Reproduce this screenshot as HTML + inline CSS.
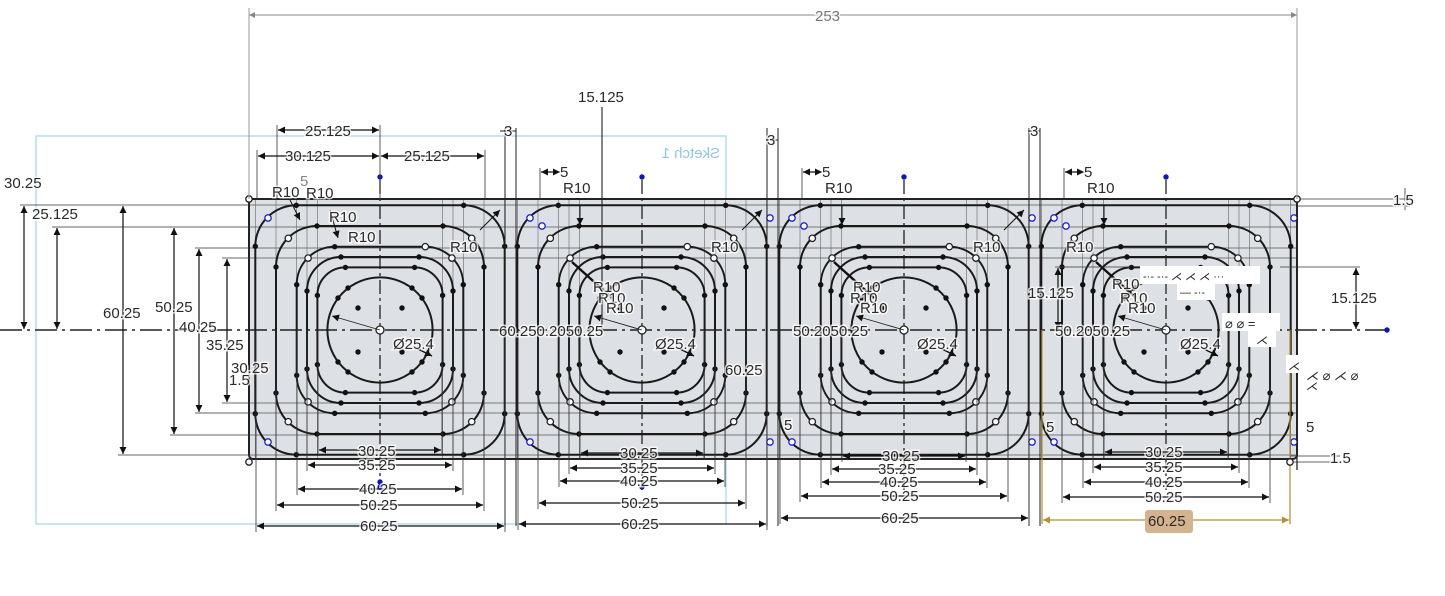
<!DOCTYPE html>
<html><head><meta charset="utf-8"><style>
html,body{margin:0;padding:0;background:#fff;width:1445px;height:596px;overflow:hidden}
svg{display:block}
text{font-family:"Liberation Sans",sans-serif;font-size:15px;fill:#2a2a2a;paint-order:stroke;stroke:#fff;stroke-width:3px;stroke-opacity:.75}
</style></head><body>
<svg id="s" width="1445" height="596" viewBox="0 0 1445 596" xmlns="http://www.w3.org/2000/svg">
<defs>
<marker id="a" viewBox="0 0 10 10" refX="10" refY="5" markerWidth="12" markerHeight="7" markerUnits="userSpaceOnUse" orient="auto-start-reverse"><path d="M0,0L10,5L0,10z" fill="#111"/></marker>
<marker id="g" viewBox="0 0 10 10" refX="10" refY="5" markerWidth="12" markerHeight="7" markerUnits="userSpaceOnUse" orient="auto-start-reverse"><path d="M0,0L10,5L0,10z" fill="#b8902a"/></marker>
<marker id="gr" viewBox="0 0 10 10" refX="10" refY="5" markerWidth="10" markerHeight="6" markerUnits="userSpaceOnUse" orient="auto-start-reverse"><path d="M0,0L10,5L0,10z" fill="#888"/></marker>
</defs>
<rect x="36" y="136" width="690" height="388" fill="none" stroke="#9fd4ee" stroke-width="1.2"/>
<rect x="249" y="199" width="1048" height="260" rx="4" fill="#dde0e4" stroke="#222" stroke-width="2"/>
<g id="geo"></g>
<line x1="249" y1="15" x2="1297" y2="15" stroke="#888" stroke-width="1" marker-start="url(#gr)" marker-end="url(#gr)"/>
<line x1="249" y1="8" x2="249" y2="199" stroke="#999" stroke-width="1"/>
<line x1="1297" y1="8" x2="1297" y2="199" stroke="#999" stroke-width="1"/>
<text x="815" y="21" style="fill:#777">253</text>
<text x="650" y="158" transform="scale(-1,1) translate(-1370,0)" style="fill:#8cc8ea;font-size:15px">Sketch 1</text>

<text x="4" y="188">30.25</text>
<text x="32" y="219">25.125</text>
<text x="103" y="318">60.25</text>
<text x="155" y="312">50.25</text>
<text x="179" y="332">40.25</text>
<text x="206" y="350">35.25</text>
<text x="231" y="373">30.25</text>
<text x="229" y="385">1.5</text>

<text x="305" y="136">25.125</text>
<text x="285" y="161">30.125</text>
<text x="404" y="161">25.125</text>
<text x="300" y="186" style="fill:#888">5</text>
<text x="272" y="197">R10</text><text x="306" y="198">R10</text>
<text x="329" y="222">R10</text><text x="348" y="242">R10</text>
<text x="450" y="252">R10</text>
<text x="578" y="102">15.125</text>
<text x="504" y="136">3</text><text x="767" y="145">3</text><text x="1030" y="136">3</text>
<text x="560" y="177">5</text><text x="822" y="177">5</text><text x="1084" y="177">5</text>
<text x="563" y="193">R10</text><text x="825" y="193">R10</text><text x="1087" y="193">R10</text>
<text x="711" y="252">R10</text><text x="973" y="252">R10</text><text x="1066" y="252">R10</text>
<text x="593" y="292">R10</text><text x="598" y="303">R10</text><text x="606" y="313">R10</text>
<text x="853" y="292">R10</text><text x="850" y="303">R10</text><text x="860" y="313">R10</text>
<text x="1112" y="289">R10</text><text x="1120" y="303">R10</text><text x="1128" y="313">R10</text>
<text x="499" y="336">60.250.2050.25</text>
<text x="793" y="336">50.2050.25</text>
<text x="1055" y="336">50.2050.25</text>
<text x="725" y="375">60.25</text>
<text x="1028" y="298">15.125</text>
<text x="1331" y="303">15.125</text>
<text x="1393" y="205">1.5</text>
<text x="1330" y="463">1.5</text>
<text x="393" y="349">Ø25.4</text><text x="655" y="349">Ø25.4</text><text x="917" y="349">Ø25.4</text><text x="1180" y="349">Ø25.4</text>
<text x="1046" y="432">5</text><text x="1306" y="432">5</text><text x="784" y="430">5</text>

<text x="358" y="456">30.25</text><text x="358" y="470">35.25</text><text x="359" y="494">40.25</text><text x="360" y="510">50.25</text><text x="360" y="531">60.25</text>
<text x="620" y="458">30.25</text><text x="620" y="473">35.25</text><text x="620" y="486">40.25</text><text x="621" y="508">50.25</text><text x="621" y="529">60.25</text>
<text x="882" y="461">30.25</text><text x="878" y="474">35.25</text><text x="880" y="487">40.25</text><text x="881" y="501">50.25</text><text x="881" y="523">60.25</text>
<text x="1145" y="457">30.25</text><text x="1145" y="472">35.25</text><text x="1145" y="487">40.25</text><text x="1145" y="502">50.25</text>
<rect x="1145" y="510" width="48" height="23" rx="3" fill="#d4b48e"/>
<text x="1148" y="526" style="stroke:none">60.25</text>

<g fill="#fff" stroke="none">
<rect x="1140" y="266" width="100" height="18"/><rect x="1240" y="266" width="20" height="18"/>
<rect x="1177" y="282" width="38" height="18"/>
<rect x="1222" y="313" width="58" height="18"/><rect x="1248" y="329" width="28" height="18"/>
<rect x="1286" y="355" width="18" height="18"/>
</g>
<text x="1143" y="280" style="font-size:11px">-·- -·- ⋌ ⋌ ⋌ ···</text>
<text x="1180" y="296" style="font-size:11px">— -·-</text>
<text x="1225" y="328" style="font-size:13px">⌀ ⌀ =</text>
<text x="1256" y="344" style="font-size:12px">⋌</text>
<text x="1288" y="370" style="font-size:12px">⋌</text>
<text x="1306" y="380" style="font-size:13px">⋌ ⌀ ⋌ ⌀</text>
<text x="1306" y="390" style="font-size:12px">⋌</text>
</svg>
<script>
(function(){
var NS="http://www.w3.org/2000/svg",G=document.getElementById("geo");
function el(t,a){var e=document.createElementNS(NS,t);for(var k in a)e.setAttribute(k,a[k]);G.appendChild(e);return e;}
function L(x1,y1,x2,y2,w,c,extra){var o={x1:x1,y1:y1,x2:x2,y2:y2,stroke:c||"#222","stroke-width":w||1};for(var k in extra)o[k]=extra[k];return el("line",o);}
function D(x1,y1,x2,y2,c,m){L(x1,y1,x2,y2,1.2,c||"#111",{"marker-start":"url(#"+(m||"a")+")","marker-end":"url(#"+(m||"a")+")"});}
function dot(x,y,open,col){el("circle",{cx:x,cy:y,r:open?3.2:2.7,fill:open?"#fff":(col||"#111"),stroke:col||"#222","stroke-width":open?1.3:0});}
var cy=330,cx=[380,642,904,1166];
var H=[124.7,104,83.3,73,62.6],R=[41,41,38,34,28];
[205,227,248,258,403,413,435,455].forEach(function(y){L(249,y,1297,y,0.7,"#555");});
cx.forEach(function(c){
 [-124.7,-104,-83.3,-73,-62.6,62.6,73,83.3,104,124.7].forEach(function(d){L(c+d,200,c+d,458,0.6,"#666");});
});
L(0,cy,1385,cy,1.6,"#222",{"stroke-dasharray":"22,5,3,5"});
dot(1387,cy,false,"#1010d0");
cx.forEach(function(c,i){
 L(c,180,c,490,1.3,"#222",{"stroke-dasharray":"14,4,3,4"});
 dot(c,177,false,"#1010d0");
 for(var j=0;j<5;j++){var h=H[j],r=R[j];
  el("rect",{x:c-h,y:cy-h,width:2*h,height:2*h,rx:r,fill:"none",stroke:"#1a1a1a","stroke-width":2});
  [[-1,-1],[1,-1],[-1,1],[1,1]].forEach(function(s){
   dot(c+s[0]*(h-r),cy+s[1]*h,(j==2)&&s[1]<0&&s[0]>0);
   dot(c+s[0]*h,cy+s[1]*(h-r));
   if(j==1||j==2){var o=(h-r*0.3);dot(c+s[0]*o,cy+s[1]*o,true);}
  });
 }
 el("circle",{cx:c,cy:cy,r:52.6,fill:"none",stroke:"#1a1a1a","stroke-width":2});
 el("circle",{cx:c,cy:cy,r:4,fill:"#fff",stroke:"#222","stroke-width":1.3});
 [[-42,-32],[-32,-42],[42,-32],[32,-42],[-42,32],[-32,42],[42,32],[32,42],[-22,-22],[22,-22],[-22,22],[22,22]].forEach(function(p){dot(c+p[0],cy+p[1]);});
 L(c-48,cy-14,c,cy,0.9,"#222",{"marker-start":"url(#a)"});
 L(c+36,cy+18,c+52,cy+26,1.4,"#111",{"marker-end":"url(#a)"});
 dot(c-112,cy-112,true,"#2020e0");dot(c-112,cy+112,true,"#2020e0");
 if(i>0){dot(c-100,cy-104,true,"#2020e0");dot(c+128,cy-112,true,"#2020e0");dot(c+128,cy+112,true,"#2020e0");}
});
[[505,516],[767,778],[1029,1040]].forEach(function(p){
 L(p[0],128,p[0],526,1,"#222");L(p[1],128,p[1],526,1,"#222");
});
L(500,131,516,131,1,"#222");L(766,140,778,140,1,"#222");L(1028,131,1040,131,1,"#222");
L(1297,199,1297,470,1.3,"#222");
L(20,205,250,205,0.8,"#333");L(52,227,250,227,0.8,"#333");L(195,248,250,248,0.8,"#333");L(222,258,250,258,0.8,"#333");
L(222,403,250,403,0.8,"#333");L(195,413,250,413,0.8,"#333");L(170,435,250,435,0.8,"#333");L(118,455,250,455,0.8,"#333");
D(24,206,24,329);D(57,228,57,329);D(123,206,123,454);D(174,228,174,434);D(199,249,199,412);D(227,259,227,402);
L(277,125,277,200,0.8,"#333");L(257,150,257,200,0.8,"#333");L(380,125,380,200,0.8,"#333");L(485,150,485,200,0.8,"#333");
D(278,130,379,130);D(258,156,379,156);D(381,156,484,156);
L(602,107,602,330,1.1,"#222");
L(540,168,540,200,0.8,"#333");L(802,168,802,200,0.8,"#333");L(1064,168,1064,200,0.8,"#333");
D(541,172,560,172);D(803,172,822,172);D(1065,172,1084,172);
[[290,200,300,220],[330,210,338,238],[580,205,580,225],[842,205,842,225],[1104,205,1104,225],[480,230,500,210],[742,230,762,210],[1004,230,1024,210]].forEach(function(p){L(p[0],p[1],p[2],p[3],1,"#111",{"marker-end":"url(#a)"});});
[[572,262,612,298],[834,262,874,298],[1096,262,1136,298]].forEach(function(p){L(p[0],p[1],p[2],p[3],2.4,"#111");});
L(1297,199,1410,199,0.8,"#333");L(1297,206,1410,206,0.8,"#333");L(1405,188,1405,210,0.8,"#333");
L(1280,267,1360,267,0.8,"#333");D(1356,268,1356,329);
L(1290,456,1340,456,0.8,"#333");L(1290,462,1340,462,0.8,"#333");
L(1055,267,1130,267,0.8,"#333");D(1058,268,1058,329);
var B=[
 [[318,442,450],[307,453,465],[297,463,489],[276,484,505],[256,505,526]],
 [[580,704,453],[569,715,468],[559,725,481],[538,746,503],[518,767,524]],
 [[842,966,456],[831,977,469],[821,987,482],[800,1008,496],[780,1029,518]],
 [[1104,1228,452],[1093,1239,467],[1083,1249,482],[1062,1270,497]]];
B.forEach(function(cell){cell.forEach(function(b){
 L(b[0],cy,b[0],b[2]+6,0.8,"#333");L(b[1],cy,b[1],b[2]+6,0.8,"#333");D(b[0]+1,b[2],b[1]-1,b[2]);
});});
L(1042,330,1042,524,1.2,"#b8902a");L(1290,330,1290,524,1.2,"#b8902a");
D(1043,520,1289,520,"#b8902a","g");
dot(380,482,false,"#1010d0");dot(380,487,false,"#1010d0");dot(642,487,false,"#1010d0");
dot(249,199,true);dot(1297,199,true);dot(249,462,true);dot(1290,462,true);
})();
</script>
</body></html>
